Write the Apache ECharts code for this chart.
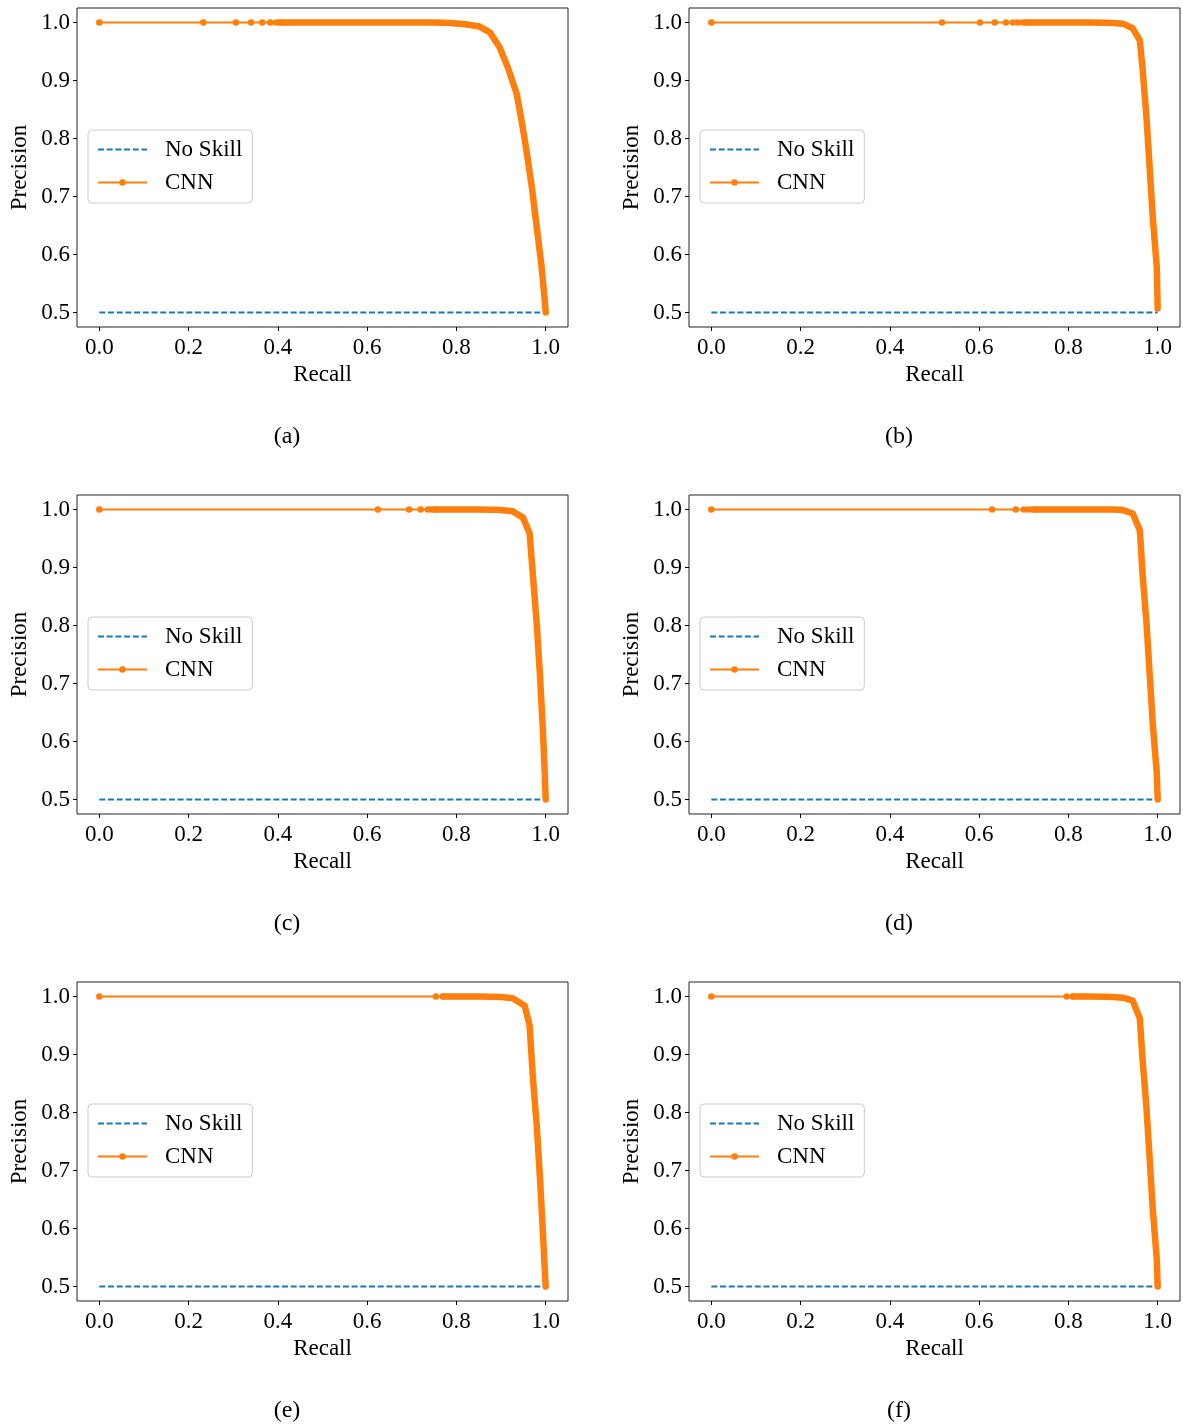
<!DOCTYPE html>
<html>
<head>
<meta charset="utf-8">
<script src="https://cdn.jsdelivr.net/npm/echarts@6/dist/echarts.min.js"></script>
<style>
html,body{margin:0;padding:0;background:#fff;}
#chart{width:1183px;height:1427px;}
</style>
</head>
<body>
<div id="chart"></div>
<script>
// ---- Data ----
const panelLabels = ['(a)', '(b)', '(c)', '(d)', '(e)', '(f)'];
const xTicks = [0.0, 0.2, 0.4, 0.6, 0.8, 1.0];
const yTicks = [0.5, 0.6, 0.7, 0.8, 0.9, 1.0];
const noSkillRecall = [0, 1];
const noSkillPrecision = [0.5, 0.5];

const recallA = [0, 0.233, 0.306, 0.340, 0.365, 0.383, 0.396, 0.405, 0.45, 0.5, 0.55, 0.6, 0.65, 0.7, 0.75, 0.785, 0.82, 0.852, 0.875, 0.897, 0.915, 0.935, 0.946, 0.957, 0.969, 0.980, 0.991, 0.998, 1.0];
const precisionA = [1, 1, 1, 1, 1, 1, 1, 1, 1, 1, 1, 1, 1, 1, 1, 0.999, 0.997, 0.993, 0.983, 0.957, 0.923, 0.877, 0.831, 0.779, 0.716, 0.647, 0.578, 0.52, 0.5];

const recallB = [0, 0.517, 0.602, 0.635, 0.660, 0.676, 0.687, 0.698, 0.705, 0.75, 0.8, 0.85, 0.9, 0.922, 0.944, 0.960, 0.966, 0.975, 0.982, 0.989, 0.998, 1.0];
const precisionB = [1, 1, 1, 1, 1, 1, 1, 1, 1, 1, 1, 1, 0.999, 0.998, 0.99, 0.969, 0.922, 0.836, 0.75, 0.664, 0.578, 0.507];

const recallC = [0, 0.624, 0.694, 0.720, 0.736, 0.745, 0.752, 0.8, 0.85, 0.9, 0.926, 0.949, 0.964, 0.971, 0.980, 0.987, 0.993, 0.998, 1.0];
const precisionC = [1, 1, 1, 1, 1, 1, 1, 1, 1, 0.999, 0.997, 0.986, 0.959, 0.89, 0.803, 0.717, 0.631, 0.545, 0.5];

const recallD = [0, 0.629, 0.682, 0.700, 0.711, 0.720, 0.726, 0.8, 0.85, 0.9, 0.922, 0.944, 0.960, 0.966, 0.975, 0.982, 0.989, 0.998, 1.0];
const precisionD = [1, 1, 1, 1, 1, 1, 1, 1, 1, 1, 0.999, 0.993, 0.964, 0.89, 0.803, 0.717, 0.631, 0.545, 0.5];

const recallE = [0, 0.754, 0.770, 0.776, 0.8, 0.85, 0.9, 0.926, 0.953, 0.964, 0.971, 0.980, 0.987, 0.993, 0.998, 1.0];
const precisionE = [1, 1, 1, 1, 1, 1, 0.999, 0.997, 0.984, 0.95, 0.864, 0.777, 0.69, 0.604, 0.53, 0.5];

const recallF = [0, 0.796, 0.81, 0.85, 0.9, 0.922, 0.944, 0.960, 0.966, 0.975, 0.982, 0.989, 0.998, 1.0];
const precisionF = [1, 1, 1, 1, 0.999, 0.998, 0.993, 0.962, 0.893, 0.807, 0.721, 0.633, 0.547, 0.5];

// index where the markers become dense (drawn as a thick band)
const denseStart = [7, 8, 6, 6, 2, 2];

// ---- Layout / style ----
const panels = [
  [recallA, precisionA], [recallB, precisionB], [recallC, precisionC],
  [recallD, precisionD], [recallE, precisionE], [recallF, precisionF]
];
const FONT = '"Liberation Serif", "Times New Roman", serif';
const ORANGE = '#ff7f0e', BLUE = '#1f77b4';
const colLeft = [77, 689];
const rowTop = [8, 495, 982];
const GW = 491, GH = 319;
const captionX = [287, 899];
const captionY = [437, 924, 1411];

const zip = (xs, ys) => xs.map((x, i) => [x, ys[i]]);

const grid = [], xAxis = [], yAxis = [], series = [], legend = [], graphic = [];
panels.forEach((p, i) => {
  const col = i % 2, row = Math.floor(i / 2);
  const left = colLeft[col], top = rowTop[row];
  const d = denseStart[i];
  grid.push({left: left, top: top, width: GW, height: GH, show: true,
    borderColor: '#222', borderWidth: 1, backgroundColor: '#fff'});
  xAxis.push({type: 'value', gridIndex: i, min: -0.05, max: 1.05, position: 'bottom',
    name: 'Recall', nameLocation: 'middle', nameGap: 36,
    nameTextStyle: {fontFamily: FONT, fontSize: 23, color: '#000'},
    axisLine: {show: false, onZero: false},
    axisTick: {show: true, inside: false, length: 4, lineStyle: {color: '#000', width: 1}, customValues: xTicks},
    axisLabel: {fontFamily: FONT, fontSize: 23, color: '#000', margin: 9, customValues: xTicks,
      formatter: v => v.toFixed(1)},
    splitLine: {show: false}});
  yAxis.push({type: 'value', gridIndex: i, min: 0.475, max: 1.025, position: 'left',
    name: 'Precision', nameLocation: 'middle', nameGap: 46,
    nameTextStyle: {fontFamily: FONT, fontSize: 23, color: '#000'},
    axisLine: {show: false, onZero: false},
    axisTick: {show: true, inside: false, length: 4, lineStyle: {color: '#000', width: 1}, customValues: yTicks},
    axisLabel: {fontFamily: FONT, fontSize: 23, color: '#000', margin: 7, customValues: yTicks,
      formatter: v => v.toFixed(1)},
    splitLine: {show: false}});
  series.push({type: 'line', name: 'No Skill', xAxisIndex: i, yAxisIndex: i,
    data: zip(noSkillRecall, noSkillPrecision), symbol: 'none',
    lineStyle: {color: BLUE, width: 2, type: [6, 2.7]}, itemStyle: {color: BLUE}, z: 2});
  // sparse part: thin line with visible markers
  series.push({type: 'line', name: 'CNN', xAxisIndex: i, yAxisIndex: i,
    data: zip(p[0].slice(0, d + 1), p[1].slice(0, d + 1)), symbol: 'circle', symbolSize: 6.5, showAllSymbol: true,
    lineStyle: {color: ORANGE, width: 1.8}, itemStyle: {color: ORANGE}, z: 3});
  // dense part: overlapping markers form a thick band
  series.push({type: 'line', name: 'CNN dense', xAxisIndex: i, yAxisIndex: i,
    data: zip(p[0].slice(d), p[1].slice(d)), symbol: 'none', silent: true,
    lineStyle: {color: ORANGE, width: 6.5, cap: 'round', join: 'round'}, z: 4});
  legend.push({data: [{name: 'No Skill', itemStyle: {opacity: 0}}, 'CNN'], orient: 'vertical',
    left: left + 11, top: top + 122,
    padding: [8, 10, 9, 9], itemGap: 10, itemWidth: 49, itemHeight: 8,
    backgroundColor: '#fff', borderColor: '#cccccc', borderWidth: 1, borderRadius: 4,
    textStyle: {fontFamily: FONT, fontSize: 23, color: '#000', lineHeight: 23, padding: [0, 0, 0, 13]}});
  graphic.push({type: 'text', x: captionX[col], y: captionY[row],
    style: {text: panelLabels[i], font: '24px ' + FONT, fill: '#000',
      align: 'center', verticalAlign: 'middle', textAlign: 'center', textVerticalAlign: 'middle'}});
});

const chart = echarts.init(document.getElementById('chart'), null, {renderer: 'canvas'});
chart.setOption({animation: false, backgroundColor: '#fff', grid, xAxis, yAxis, series, legend, graphic});
</script>
</body>
</html>
